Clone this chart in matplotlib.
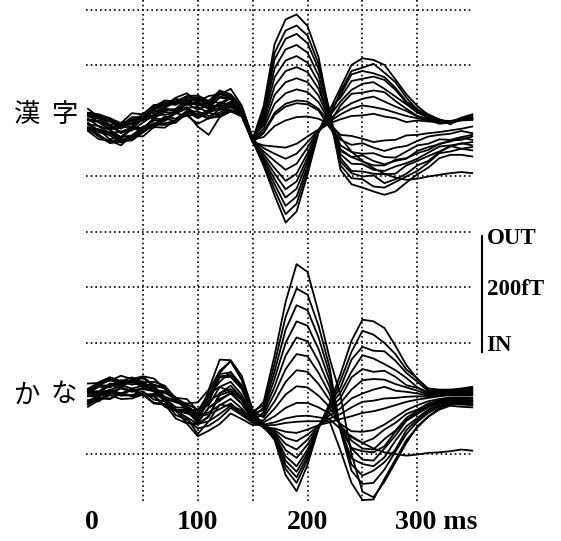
import matplotlib
matplotlib.use("Agg")
import matplotlib.pyplot as plt

# ---------------- data (fT, sampled every 10 ms) ----------------
TIMES_MS = [0, 10, 20, 30, 40, 50, 60, 70, 80, 90, 100, 110, 120, 130, 140, 150,
            160, 170, 180, 190, 200, 210, 220, 230, 240, 250, 260, 270, 280, 290,
            300, 310, 320, 330, 340, 350]

kanji_01 = [10, 6, -11, -7, -4, 8, 10, 26, 36, 31, 35, 26, 44, 41, 23, -33, 27, 139, 183, 192, 171, 115, 13, -88, -114, -120, -127, -133, -127, -111, -96, -84, -67, -61, -61, -64]
kanji_02 = [-6, -21, -23, -32, -14, -16, 1, 0, 14, 22, 7, 17, 20, 30, 14, -37, 21, 123, 163, 172, 154, 103, 12, -80, -103, -105, -118, -120, -110, -100, -90, -75, -58, -55, -50, -47]
kanji_03 = [12, 9, 2, -11, 4, 4, 23, 34, 32, 42, 43, 33, 52, 45, 25, -32, 16, 111, 148, 157, 140, 94, 20, -73, -94, -100, -98, -112, -105, -95, -80, -72, -56, -45, -50, -53]
kanji_04 = [-11, -25, -37, -34, -32, -18, -4, -4, 0, 17, 5, 15, 10, 20, 11, -38, 10, 95, 129, 137, 123, 82, 8, -67, -90, -91, -95, -96, -95, -80, -72, -63, -55, -46, -40, -44]
kanji_05 = [3, 0, -7, -20, -11, 5, 8, 23, 19, 33, 32, 24, 30, 44, 20, -34, 4, 79, 109, 117, 105, 70, -5, -60, -77, -78, -88, -90, -82, -76, -68, -57, -46, -44, -41, -38]
kanji_06 = [-18, -33, -35, -44, -26, -28, -11, -12, 2, 10, -5, 5, 8, 18, 8, -36, -2, 63, 90, 97, 88, 58, 4, -54, -65, -73, -80, -80, -70, -67, -58, -52, -41, -37, -30, -34]
kanji_07 = [15, 12, 5, -8, 7, 7, 26, 37, 35, 45, 46, 36, 55, 48, 27, -30, -8, 47, 70, 77, 70, 46, 2, -51, -65, -62, -72, -78, -72, -68, -54, -47, -42, -35, -34, -28]
kanji_08 = [4, -10, -22, -19, -17, -3, 11, 11, 15, 32, 20, 30, 25, 35, 18, -35, -14, 31, 50, 57, 52, 34, 0, -44, -56, -59, -58, -65, -66, -55, -44, -41, -33, -34, -29, -25]
kanji_09 = [-12, -15, -22, -35, -26, -10, -7, 8, 4, 18, 17, 9, 15, 29, 13, -38, -22, 11, 26, 32, 30, 19, -12, -34, -43, -40, -48, -54, -48, -45, -36, -28, -25, -23, -18, -22]
kanji_10 = [8, 4, -13, -9, -6, 6, 8, 24, 34, 29, 33, 24, 42, 39, 22, -33, -29, -9, 1, 7, 8, 4, -5, -25, -27, -32, -38, -35, -34, -26, -25, -22, -20, -17, -14, -10]
kanji_11 = [-3, -18, -20, -29, -11, -13, 4, 3, 17, 25, 10, 20, 23, 33, 16, -36, -81, -134, -183, -163, -96, -20, 19, 60, 101, 113, 110, 101, 75, 48, 27, 11, 3, -3, 6, 12]
kanji_12 = [9, 6, -1, -14, 1, 1, 20, 31, 29, 39, 40, 30, 49, 42, 24, -34, -77, -124, -168, -149, -88, -20, 5, 53, 90, 96, 103, 87, 70, 42, 20, 10, 2, -6, 5, 10]
kanji_13 = [-14, -28, -40, -37, -35, -21, -7, -7, -3, 14, -10, -25, 7, 17, 9, -38, -73, -114, -153, -136, -81, -19, 14, 47, 84, 90, 86, 79, 60, 35, 21, 12, 2, -3, 5, 3]
kanji_14 = [1, -2, -9, -22, -13, 3, 6, 21, 17, 31, 30, 22, 28, 42, 20, -35, -69, -105, -138, -122, -73, -18, 22, 42, 72, 76, 80, 74, 56, 33, 18, 7, -2, -3, 4, 8]
kanji_15 = [-12, -16, -33, -29, -26, -14, -12, 4, 14, 9, 13, 4, 22, 19, 12, -37, -65, -95, -123, -109, -66, -18, 9, 35, 56, 67, 70, 58, 44, 30, 15, 6, 1, 0, 4, 4]
kanji_16 = [22, 7, 5, -4, 14, 12, 29, 28, 42, 50, 35, 45, 48, 58, 28, -31, -60, -85, -108, -95, -58, -17, -4, 28, 49, 51, 55, 52, 36, 22, 9, 4, 0, -3, 3, 6]
kanji_17 = [-6, -9, -16, -29, -14, -14, 5, 16, 14, 24, 25, 15, 34, 27, 16, -36, -55, -72, -88, -77, -48, -16, 3, 20, 32, 40, 44, 35, 26, 18, 8, 2, -5, -3, 2, 5]
kanji_18 = [11, -3, -15, -12, -10, 4, 18, 18, 22, 39, 27, 37, 32, 42, 21, -34, -49, -59, -68, -59, -38, -16, -1, 12, 22, 28, 25, 21, 15, 9, 5, 1, -2, -3, 2, 3]
kanji_19 = [-16, -19, -26, -39, -30, -14, -11, 4, 0, 14, 13, 5, 11, 25, 11, -38, -44, -46, -48, -41, -28, -15, -4, 3, 9, 10, 13, 8, 5, -2, 1, -1, -2, -3, 1, 2]
kanji_20 = [14, 10, -7, -3, 0, 12, 14, 30, 40, 35, 39, 30, 48, 45, 25, -33, -20, 15, 31, 37, 35, 22, -2, -30, -55, -72, -85, -95, -102, -106, -104, -100, -97, -94, -92, -94]

kana_01 = [13, 24, 23, 33, 28, 31, 15, 13, 2, -20, -21, -5, 38, 39, 17, -28, -6, 78, 174, 242, 228, 155, 73, 5, -100, -168, -178, -150, -115, -80, -50, -32, -18, -10, -9, -12]
kana_02 = [-3, -3, 11, 8, 18, 7, 6, -13, -20, -25, -39, 5, 46, 68, 34, -23, -12, 63, 147, 198, 187, 131, 57, -59, -130, -154, -152, -128, -96, -64, -42, -26, -15, -9, -11, -12]
kana_03 = [17, 29, 38, 31, 38, 29, 30, 23, 0, -10, -20, -12, 21, 12, -1, -34, -16, 49, 124, 168, 159, 110, 45, -56, -119, -139, -130, -115, -92, -57, -38, -23, -13, -8, -9, -10]
kana_04 = [4, 5, 9, 18, 12, 17, 13, -5, -22, -20, -34, 4, 30, 48, 21, -27, -21, 36, 100, 139, 131, 89, 33, -54, -108, -118, -122, -106, -76, -50, -35, -20, -10, -6, -7, -8]
kana_05 = [15, 27, 36, 29, 30, 37, 22, 19, -6, -14, -30, -25, -12, -1, -18, -40, -25, 22, 77, 110, 103, 67, 21, -52, -90, -110, -112, -90, -67, -40, -28, -16, -8, -4, -5, -5]
kana_06 = [-10, 1, 0, 10, 5, 8, -8, -10, -21, -44, -47, -33, 6, 13, -2, -35, -30, 9, 53, 80, 76, 46, 9, -51, -89, -95, -97, -86, -60, -39, -25, -14, -7, -3, -3, -4]
kana_07 = [10, 10, 24, 21, 31, 20, 19, 0, -7, -13, -28, 13, 50, 67, 34, -23, -34, -5, 30, 51, 48, 26, -3, -51, -76, -90, -92, -73, -58, -35, -22, -12, -5, -2, -2, -3]
kana_08 = [-6, 6, 15, 8, 15, 6, 7, 0, -23, -34, -46, -41, -11, -14, -21, -42, -39, -18, 7, 22, 20, 5, -15, -49, -70, -80, -72, -56, -44, -28, -20, -9, -3, 0, 0, 0]
kana_09 = [27, 28, 32, 41, 35, 40, 36, 18, 1, -1, -22, 8, 21, 30, 7, -31, -43, -32, -17, -8, -8, -16, -27, -46, -59, -60, -57, -47, -34, -21, -12, -5, -1, 2, 2, 2]
kana_10 = [-15, -3, 6, -1, 0, 7, -8, -11, -36, -45, -68, -58, -46, -27, -37, -48, -47, -43, -36, -32, -31, -34, -37, -55, -68, -80, -90, -97, -100, -103, -101, -98, -97, -95, -92, -94]
kana_11 = [10, 21, 20, 30, 25, 28, 12, 10, -1, -22, -22, -5, 40, 42, 20, -28, -50, -75, -138, -167, -119, -54, -10, 44, 104, 142, 139, 127, 95, 60, 35, 18, 16, 16, 18, 21]
kana_12 = [-5, -5, 9, 6, 16, 5, 4, -15, -22, -35, -64, -41, -28, -13, -27, -43, -47, -72, -127, -152, -110, -53, -12, 32, 84, 122, 115, 100, 80, 52, 36, 15, 14, 14, 16, 19]
kana_13 = [12, 24, 33, 26, 33, 24, 25, 18, -5, -9, -7, 16, 70, 69, 41, -20, -53, -70, -120, -142, -104, -52, -10, 20, 70, 93, 86, 85, 68, 46, 30, 13, 12, 13, 14, 17]
kana_14 = [6, 7, 11, 20, 14, 19, 15, -3, -20, -22, -44, -16, -4, 10, -8, -37, -49, -68, -112, -132, -98, -52, -14, 11, 48, 78, 72, 62, 51, 37, 20, 11, 11, 12, 13, 15]
kana_15 = [17, 29, 38, 31, 32, 39, 24, 21, -4, -13, -31, -29, -19, -9, -25, -42, -52, -66, -104, -122, -92, -51, -18, 1, 38, 53, 48, 50, 39, 24, 19, 9, 9, 10, 11, 13]
kana_16 = [-11, 0, -1, 9, 4, 7, -9, -11, -22, -44, -46, -32, 10, 17, 1, -34, -46, -63, -93, -107, -83, -51, -24, -8, 16, 33, 35, 34, 26, 20, 14, 7, 8, 9, 10, 11]
kana_17 = [13, 13, 27, 24, 34, 23, 22, 3, -4, -16, -43, -17, -1, 9, -10, -38, -51, -60, -82, -92, -74, -50, -30, -18, 0, 9, 16, 21, 14, 12, 9, 5, 7, 8, 8, 10]
kana_18 = [-5, 7, 16, 9, 16, 7, 8, 1, -22, -27, -27, -7, 44, 47, 24, -26, -48, -57, -71, -77, -65, -49, -36, -28, -16, -6, -4, 0, 1, 3, 4, 3, 5, 7, 7, 8]
kana_19 = [10, 11, 15, 24, 18, 23, 19, 1, -16, -17, -37, -6, 9, 23, 2, -34, -52, -54, -60, -62, -56, -48, -43, -37, -32, -26, -23, -18, -12, -6, -2, 1, 4, 6, 6, 6]
kana_20 = [-9, 3, 12, 5, 6, 13, -2, -5, -30, -38, -54, -49, -36, -17, -30, -44, -48, -48, -44, -42, -41, -41, -41, -94, -152, -183, -182, -145, -110, -75, -52, -33, -20, -13, -15, -16]

KANJI_TRACES = [kanji_01, kanji_02, kanji_03, kanji_04, kanji_05, kanji_06, kanji_07,
                kanji_08, kanji_09, kanji_10, kanji_11, kanji_12, kanji_13, kanji_14,
                kanji_15, kanji_16, kanji_17, kanji_18, kanji_19, kanji_20]
KANA_TRACES = [kana_01, kana_02, kana_03, kana_04, kana_05, kana_06, kana_07,
               kana_08, kana_09, kana_10, kana_11, kana_12, kana_13, kana_14,
               kana_15, kana_16, kana_17, kana_18, kana_19, kana_20]

KANA_OFFSET_FT = -500
X_TICKS = [4, 100, 200]
X_TICK_LABELS = ["0", "100", "200"]
X_LAST_LABEL = "300 ms"
GRID_T = [50, 100, 150, 200, 250, 300]
GRID_FT = [200, 100, -100, -200, -300, -400, -600]
SCALE_LABELS = ["OUT", "200fT", "IN"]
ROW_LABELS = [["漢", "字"], ["か", "な"]]

# ---------------- drawing ----------------
fig = plt.figure(figsize=(5.61, 5.41), dpi=100)
ax = fig.add_axes([0, 0, 1, 1])
ax.set_xlim(-80.1, 430.8)
ax.set_ylim(-756.8, 218.0)
ax.axis("off")

dots = (0, (1.0, 1.8))
for g in GRID_T:
    ax.plot([g, g], [218, -688], color="black", lw=1.2, ls=dots, zorder=1)
for g in GRID_FT:
    ax.plot([-2, 351], [g, g], color="black", lw=1.2, ls=dots, zorder=1)

for tr in KANJI_TRACES:
    ax.plot(TIMES_MS, tr, color="black", lw=1.3, zorder=3)
for tr in KANA_TRACES:
    ax.plot(TIMES_MS, [v + KANA_OFFSET_FT for v in tr], color="black", lw=1.3, zorder=3)

serif = dict(family="Liberation Serif", weight="bold", color="black")
for t, lab in zip(X_TICKS, X_TICK_LABELS):
    ax.text(t, -724, lab, ha="center", va="center", fontsize=20, **serif)
ax.text(279.6, -724, X_LAST_LABEL, ha="left", va="center", fontsize=20, **serif)

# scale bar
ax.plot([358.4, 358.4], [-207, -417], color="black", lw=1.5, zorder=3)
for lab, y in zip(SCALE_LABELS, [-211, -304, -405]):
    ax.text(363, y, lab, ha="left", va="center", fontsize=16.5, **serif)

cjk = dict(family=["Noto Sans CJK JP", "DejaVu Sans"], fontsize=19, color="black")
for (c1, c2), y in zip(ROW_LABELS, [10.8, -493.7]):
    ax.text(-55.6, y, c1, ha="center", va="center", **cjk)
    ax.text(-21.9, y, c2, ha="center", va="center", **cjk)

fig.savefig("out.png", dpi=100)
